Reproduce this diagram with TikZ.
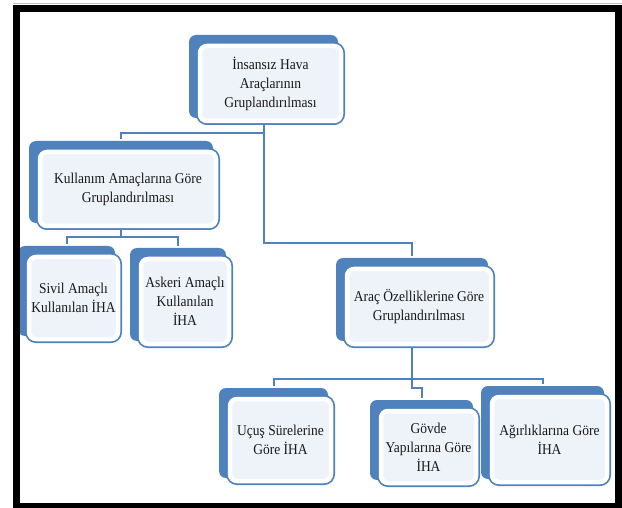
\documentclass[tikz,border=0pt]{standalone}
\usepackage{fontspec}
\newfontfamily\ihafont[FakeStretch=0.9]{Liberation Serif}
\usepackage{tikz}
\usetikzlibrary{calc, backgrounds}
\definecolor{ihablue}{HTML}{4F81BD}
\definecolor{ihafill}{HTML}{EEF2F9}
\def\bshift{-7}

\tikzset{
	ihabox/.style={draw=white, line width=4.5pt, fill=ihafill, rounded corners=7pt,
		preaction={draw=ihablue, line width=8pt}, inner sep=0pt, outer sep=0pt,
		align=center, text=black!90, font=\ihafont\fontsize{15}{19}\selectfont},
	ihaback/.style={fill=ihablue, rounded corners=7pt},
	ihalink/.style={draw=ihablue, line width=2pt},
}

\begin{document}
\begin{tikzpicture}[x=1pt, y=-1pt]

	\useasboundingbox (0,0) rectangle (622,508);

	\node[ihabox, minimum width=141, minimum height=75] (top) at (270.5,83.5) {İnsansız Hava\\Araçlarının\\Gruplandırılması};
	\node[ihabox, minimum width=176, minimum height=74] (kul) at (128,189) {Kullanım Amaçlarına Göre\\Gruplandırılması};
	\node[ihabox, minimum width=89, minimum height=82] (siv) at (73.5,298) {Sivil Amaçlı\\Kullanılan İHA};
	\node[ihabox, minimum width=88, minimum height=85] (ask) at (185,301.5) {Askeri Amaçlı\\Kullanılan\\İHA};
	\node[ihabox, minimum width=144, minimum height=75] (ara) at (419,306.5) {Araç Özelliklerine Göre\\Gruplandırılması};
	\node[ihabox, minimum width=101, minimum height=82] (ucu) at (280.5,440) {Uçuş Sürelerine\\Göre İHA};
	\node[ihabox, minimum width=95, minimum height=72] (gov) at (428.5,447) {Gövde\\Yapılarına Göre\\İHA};
	\node[ihabox, minimum width=115, minimum height=85] (agi) at (549.5,439.5) {Ağırlıklarına Göre\\İHA};

	% blue tabs behind the boxes
	\begin{scope}[on background layer]
		\fill[white] (0,0) rectangle (622,508);
		\foreach \n in {top,kul,siv,ask,ara,ucu,gov,agi} {
			\fill[ihaback] ([shift={(\bshift-4,\bshift-4)}]\n.north west) rectangle ([shift={(\bshift+4,\bshift+4)}]\n.south east);
			\coordinate (\n-n) at ([shift={(\bshift,\bshift-6)}]\n.north);
			\coordinate (\n-s) at ([shift={(\bshift,4)}]\n.south);
		}
	\end{scope}

	\draw[ihalink] (top-s) -- ++(0,8) -| (kul-n);
	\draw[ihalink] (top-s) -- ++(0,118) -| (ara-n);
	\draw[ihalink] (kul-s) -- ++(0,7) -| (siv-n);
	\draw[ihalink] (kul-s) -- ++(0,7) -| (ask-n);
	\draw[ihalink] (ara-s) -- ++(0,31) -| (ucu-n);
	\draw[ihalink] (ara-s) -- ++(0,31) -| (agi-n);
	\draw[ihalink] (ara-s) -- ++(0,40) -| (gov-n);

	% frame
	\draw[gray!50, line width=1pt] (13,4) -- (622,4);
	\draw[line width=7pt] (16.5,8.5) rectangle (618,506.5);

\end{tikzpicture}
\end{document}
